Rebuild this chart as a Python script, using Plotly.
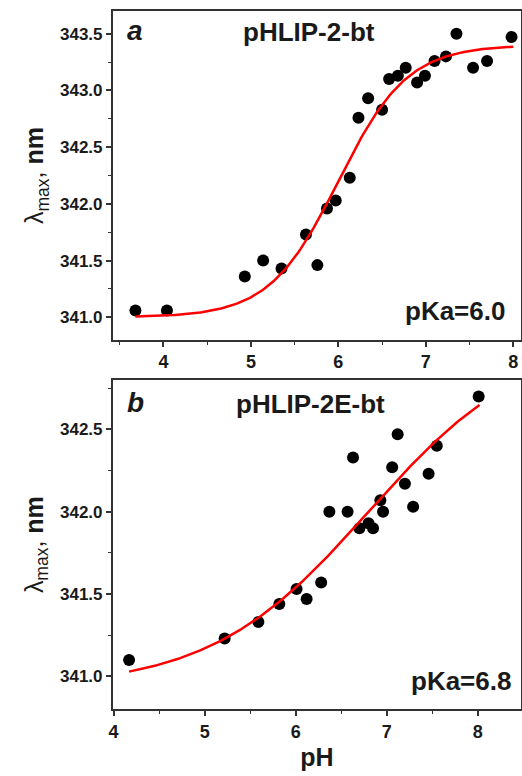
import numpy as np
import plotly.graph_objects as go

W, H = 522, 776

# Panel a: pHLIP-2-bt
ph_a = [3.68, 4.04, 4.93, 5.14, 5.35, 5.63, 5.76, 5.87, 5.97, 6.13, 6.23, 6.34,
        6.50, 6.58, 6.68, 6.77, 6.90, 6.99, 7.10, 7.23, 7.35, 7.54, 7.70, 7.98]
lam_a = [341.06, 341.06, 341.36, 341.50, 341.43, 341.73, 341.46, 341.96, 342.03,
         342.23, 342.76, 342.93, 342.83, 343.10, 343.13, 343.20, 343.07, 343.13,
         343.26, 343.30, 343.50, 343.20, 343.26, 343.47]
pka_a = 6.0
fit_a = dict(low=341.0, high=343.4, n=1.1, start=3.68, end=8.0)

# Panel b: pHLIP-2E-bt
ph_b = [4.17, 5.22, 5.59, 5.82, 6.01, 6.12, 6.28, 6.37, 6.57, 6.63, 6.70, 6.80,
        6.85, 6.93, 6.96, 7.06, 7.12, 7.20, 7.29, 7.46, 7.55, 8.01]
lam_b = [341.10, 341.23, 341.33, 341.44, 341.53, 341.47, 341.57, 342.00, 342.00,
         342.33, 341.90, 341.93, 341.90, 342.07, 342.00, 342.27, 342.47, 342.17,
         342.03, 342.23, 342.40, 342.70]
pka_b = 6.8
fit_b = dict(low=340.93, high=343.07, n=0.5, start=4.17, end=8.02)

# Tick positions and labels
x_ticks = [4, 5, 6, 7, 8]
y_ticks_a = [341.0, 341.5, 342.0, 342.5, 343.0, 343.5]
y_ticks_b = [341.0, 341.5, 342.0, 342.5]


def titration_curve(pka, low, high, n, start, end):
    ph = np.linspace(start, end, 200)
    lam = low + (high - low) / (1.0 + 10.0 ** (n * (pka - ph)))
    return ph, lam


def bold_labels(vals, fmt):
    return [f"<b>{v:{fmt}}</b>" for v in vals]


FONT = "Liberation Sans"
INK = "#1a1a1a"
FRAME = "#333333"

fig = go.Figure()
for ph, lam, pka, fit, xa, ya in [(ph_a, lam_a, pka_a, fit_a, "x", "y"),
                                  (ph_b, lam_b, pka_b, fit_b, "x2", "y2")]:
    fig.add_trace(go.Scatter(x=ph, y=lam, mode="markers", xaxis=xa, yaxis=ya,
                             marker=dict(color="black", size=12),
                             showlegend=False))
    fx, fy = titration_curve(pka, **fit)
    fig.add_trace(go.Scatter(x=fx, y=fy, mode="lines", xaxis=xa, yaxis=ya,
                             line=dict(color="#ff0000", width=2.5),
                             showlegend=False))


def px_x(p):
    return p / W


def px_y(p):
    return 1 - p / H


axis_style = dict(
    showline=True, linecolor=FRAME, linewidth=1.5, mirror=True,
    ticks="outside", ticklen=5, tickwidth=1.5, tickcolor=FRAME,
    showgrid=False, zeroline=False, automargin=False,
)
x_tickfont = dict(family=FONT, size=18, color=INK)
y_tickfont = dict(family=FONT, size=17, color=INK)
minor_style = dict(ticks="outside", ticklen=3, tickwidth=1.2, tickcolor=FRAME,
                   showgrid=False)

xdom = [px_x(112.7), px_x(521)]
ytitle = dict(text="λ<sub>max</sub>, <b>nm</b>",
              font=dict(family=FONT, size=25, color=INK), standoff=9)

fig.update_layout(
    width=W, height=H, margin=dict(l=0, r=0, t=0, b=0),
    template="none", plot_bgcolor="white", paper_bgcolor="white",
    showlegend=False,
    xaxis=dict(axis_style, domain=xdom, anchor="y", range=[3.42, 8.088],
               tickvals=x_ticks, ticktext=bold_labels(x_ticks, "d"),
               tickfont=x_tickfont, minor=dict(minor_style, dtick=0.5)),
    yaxis=dict(axis_style, domain=[px_y(340), px_y(11)], anchor="x",
               range=[340.8, 343.7],
               tickvals=y_ticks_a, ticktext=bold_labels(y_ticks_a, ".1f"),
               tickfont=y_tickfont, minor=dict(minor_style, dtick=0.25),
               title=ytitle),
    xaxis2=dict(axis_style, domain=xdom, anchor="y2", range=[3.99, 8.475],
                tickvals=x_ticks, ticktext=bold_labels(x_ticks, "d"),
                tickfont=x_tickfont, minor=dict(minor_style, dtick=0.5),
                title=dict(text="<b>pH</b>",
                           font=dict(family=FONT, size=25, color=INK),
                           standoff=8)),
    yaxis2=dict(axis_style, domain=[px_y(709.3), px_y(380)], anchor="x2",
                range=[340.8, 342.8],
                tickvals=y_ticks_b, ticktext=bold_labels(y_ticks_b, ".1f"),
                tickfont=y_tickfont, minor=dict(minor_style, dtick=0.25),
                title=ytitle),
)

label_font = dict(family=FONT, size=26, color=INK)
letter_font = dict(family=FONT, size=28, color=INK)


def note(x, y, text, font, xanchor="center"):
    fig.add_annotation(x=px_x(x), y=px_y(y), xref="paper", yref="paper",
                       xanchor=xanchor, yanchor="middle", text=text,
                       showarrow=False, font=font)


note(134.5, 31, "<b><i>a</i></b>", letter_font)
note(135, 402, "<b><i>b</i></b>", letter_font)
note(309, 32, "<b>pHLIP-2-bt</b>", label_font)
note(310.5, 404, "<b>pHLIP-2E-bt</b>", label_font)
note(507, 311, f"<b>pKa={pka_a:.1f}</b>", label_font, xanchor="right")
note(513, 681, f"<b>pKa={pka_b:.1f}</b>", label_font, xanchor="right")

fig.write_html("out.html")
